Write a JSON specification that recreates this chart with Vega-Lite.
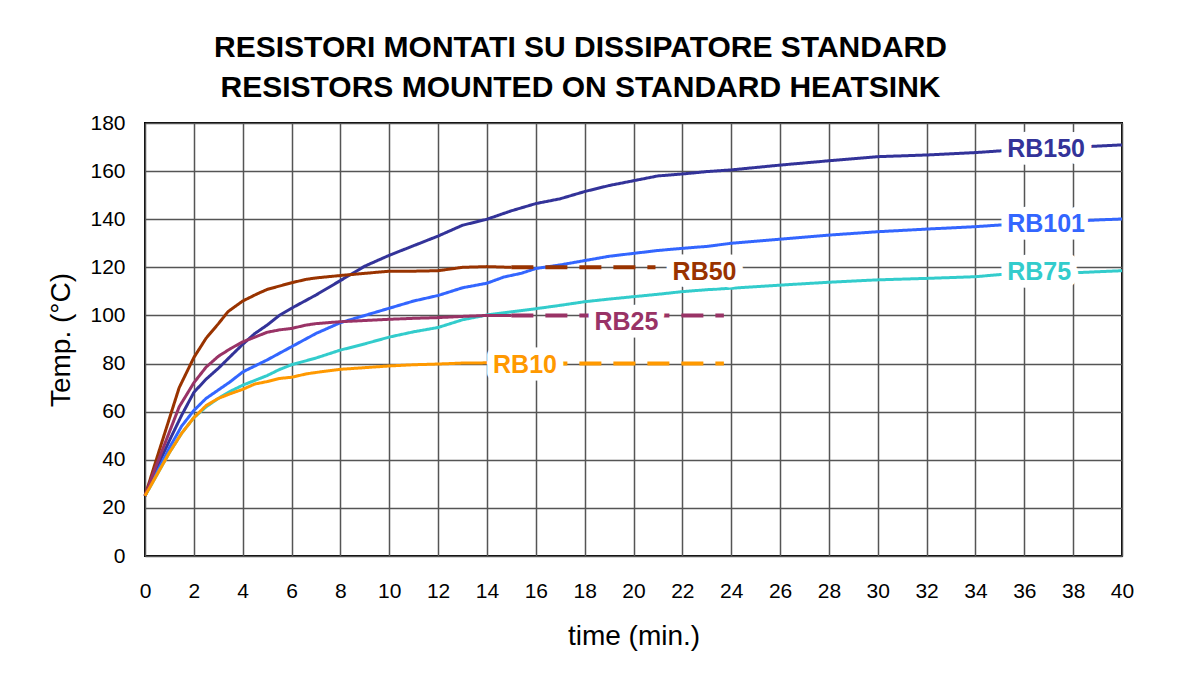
{
  "$schema": "https://vega.github.io/schema/vega-lite/v6.json",
  "width": 977,
  "height": 433,
  "autosize": {"type": "none"},
  "padding": {"left": 145, "top": 123, "right": 70, "bottom": 126},
  "background": "white",
  "config": {
    "font": "Liberation Sans",
    "view": {"stroke": "#000000", "strokeWidth": 2},
    "axis": {"gridColor": "#555555", "gridWidth": 1.5, "gridOpacity": 1, "domain": false, "ticks": false, "labelFont": "Liberation Sans", "titleFont": "Liberation Sans", "labelColor": "#000000", "titleColor": "#000000", "labelFontSize": 21, "titleFontSize": 28, "titleFontWeight": "normal"}
  },
  "title": {
    "text": ["RESISTORI MONTATI SU DISSIPATORE STANDARD", "RESISTORS MOUNTED ON STANDARD HEATSINK"],
    "font": "Liberation Sans",
    "fontSize": 30,
    "fontWeight": "bold",
    "color": "#000000",
    "lineHeight": 40,
    "anchor": "middle",
    "dx": -53,
    "offset": 9
  },
  "datasets": {
    "curves": [
      {"series": "RB150", "part": "solid", "t": 0, "T": 25},
      {"series": "RB150", "part": "solid", "t": 0.5, "T": 37},
      {"series": "RB150", "part": "solid", "t": 1, "T": 48},
      {"series": "RB150", "part": "solid", "t": 1.5, "T": 58.5},
      {"series": "RB150", "part": "solid", "t": 2, "T": 68},
      {"series": "RB150", "part": "solid", "t": 2.5, "T": 73.5},
      {"series": "RB150", "part": "solid", "t": 3, "T": 78},
      {"series": "RB150", "part": "solid", "t": 3.5, "T": 83},
      {"series": "RB150", "part": "solid", "t": 4, "T": 88},
      {"series": "RB150", "part": "solid", "t": 4.5, "T": 92.5},
      {"series": "RB150", "part": "solid", "t": 5, "T": 96},
      {"series": "RB150", "part": "solid", "t": 5.5, "T": 100},
      {"series": "RB150", "part": "solid", "t": 6, "T": 103},
      {"series": "RB150", "part": "solid", "t": 7, "T": 108.5},
      {"series": "RB150", "part": "solid", "t": 8, "T": 114.5},
      {"series": "RB150", "part": "solid", "t": 8.5, "T": 117.5},
      {"series": "RB150", "part": "solid", "t": 9, "T": 120.5},
      {"series": "RB150", "part": "solid", "t": 10, "T": 125},
      {"series": "RB150", "part": "solid", "t": 11, "T": 129},
      {"series": "RB150", "part": "solid", "t": 12, "T": 133},
      {"series": "RB150", "part": "solid", "t": 13, "T": 137.5},
      {"series": "RB150", "part": "solid", "t": 14, "T": 140},
      {"series": "RB150", "part": "solid", "t": 15, "T": 143.5},
      {"series": "RB150", "part": "solid", "t": 16, "T": 146.5},
      {"series": "RB150", "part": "solid", "t": 17, "T": 148.5},
      {"series": "RB150", "part": "solid", "t": 18, "T": 151.5},
      {"series": "RB150", "part": "solid", "t": 19, "T": 154},
      {"series": "RB150", "part": "solid", "t": 20, "T": 156},
      {"series": "RB150", "part": "solid", "t": 21, "T": 158},
      {"series": "RB150", "part": "solid", "t": 22, "T": 158.8},
      {"series": "RB150", "part": "solid", "t": 23, "T": 159.8},
      {"series": "RB150", "part": "solid", "t": 24, "T": 160.5},
      {"series": "RB150", "part": "solid", "t": 26, "T": 162.5},
      {"series": "RB150", "part": "solid", "t": 28, "T": 164.3},
      {"series": "RB150", "part": "solid", "t": 30, "T": 166},
      {"series": "RB150", "part": "solid", "t": 32, "T": 166.7},
      {"series": "RB150", "part": "solid", "t": 34, "T": 167.7},
      {"series": "RB150", "part": "solid", "t": 35, "T": 168.4},
      {"series": "RB150", "part": "solid", "t": 39, "T": 170.4},
      {"series": "RB150", "part": "solid", "t": 40, "T": 170.9},
      {"series": "RB101", "part": "solid", "t": 0, "T": 25},
      {"series": "RB101", "part": "solid", "t": 0.5, "T": 35},
      {"series": "RB101", "part": "solid", "t": 1, "T": 45},
      {"series": "RB101", "part": "solid", "t": 1.5, "T": 54},
      {"series": "RB101", "part": "solid", "t": 2, "T": 60.5},
      {"series": "RB101", "part": "solid", "t": 2.5, "T": 65.5},
      {"series": "RB101", "part": "solid", "t": 3, "T": 69},
      {"series": "RB101", "part": "solid", "t": 3.5, "T": 72.5},
      {"series": "RB101", "part": "solid", "t": 4, "T": 76.5},
      {"series": "RB101", "part": "solid", "t": 5, "T": 81.5},
      {"series": "RB101", "part": "solid", "t": 6, "T": 87},
      {"series": "RB101", "part": "solid", "t": 7, "T": 92.5},
      {"series": "RB101", "part": "solid", "t": 8, "T": 97},
      {"series": "RB101", "part": "solid", "t": 9, "T": 100},
      {"series": "RB101", "part": "solid", "t": 10, "T": 103},
      {"series": "RB101", "part": "solid", "t": 11, "T": 106},
      {"series": "RB101", "part": "solid", "t": 12, "T": 108.3},
      {"series": "RB101", "part": "solid", "t": 13, "T": 111.5},
      {"series": "RB101", "part": "solid", "t": 14, "T": 113.4},
      {"series": "RB101", "part": "solid", "t": 14.7, "T": 116},
      {"series": "RB101", "part": "solid", "t": 15.4, "T": 117.5},
      {"series": "RB101", "part": "solid", "t": 16, "T": 119.5},
      {"series": "RB101", "part": "solid", "t": 17, "T": 121},
      {"series": "RB101", "part": "solid", "t": 18, "T": 122.8},
      {"series": "RB101", "part": "solid", "t": 19, "T": 124.6},
      {"series": "RB101", "part": "solid", "t": 20, "T": 125.8},
      {"series": "RB101", "part": "solid", "t": 21, "T": 127},
      {"series": "RB101", "part": "solid", "t": 22, "T": 127.9},
      {"series": "RB101", "part": "solid", "t": 23, "T": 128.7},
      {"series": "RB101", "part": "solid", "t": 24, "T": 130},
      {"series": "RB101", "part": "solid", "t": 26, "T": 131.7},
      {"series": "RB101", "part": "solid", "t": 28, "T": 133.4},
      {"series": "RB101", "part": "solid", "t": 30, "T": 134.8},
      {"series": "RB101", "part": "solid", "t": 32, "T": 135.9},
      {"series": "RB101", "part": "solid", "t": 34, "T": 136.9},
      {"series": "RB101", "part": "solid", "t": 35, "T": 137.6},
      {"series": "RB101", "part": "solid", "t": 39, "T": 139.7},
      {"series": "RB101", "part": "solid", "t": 40, "T": 140.1},
      {"series": "RB75", "part": "solid", "t": 0, "T": 25},
      {"series": "RB75", "part": "solid", "t": 0.5, "T": 34},
      {"series": "RB75", "part": "solid", "t": 1, "T": 43},
      {"series": "RB75", "part": "solid", "t": 1.5, "T": 51},
      {"series": "RB75", "part": "solid", "t": 2, "T": 57.5},
      {"series": "RB75", "part": "solid", "t": 2.5, "T": 62},
      {"series": "RB75", "part": "solid", "t": 3, "T": 65.5},
      {"series": "RB75", "part": "solid", "t": 3.5, "T": 68.5},
      {"series": "RB75", "part": "solid", "t": 4, "T": 71},
      {"series": "RB75", "part": "solid", "t": 5, "T": 75},
      {"series": "RB75", "part": "solid", "t": 5.5, "T": 77.5},
      {"series": "RB75", "part": "solid", "t": 6, "T": 79.5},
      {"series": "RB75", "part": "solid", "t": 7, "T": 82.3},
      {"series": "RB75", "part": "solid", "t": 8, "T": 85.6},
      {"series": "RB75", "part": "solid", "t": 9, "T": 88.2},
      {"series": "RB75", "part": "solid", "t": 10, "T": 91},
      {"series": "RB75", "part": "solid", "t": 11, "T": 93.2},
      {"series": "RB75", "part": "solid", "t": 12, "T": 95},
      {"series": "RB75", "part": "solid", "t": 13, "T": 98.2},
      {"series": "RB75", "part": "solid", "t": 14, "T": 100.2},
      {"series": "RB75", "part": "solid", "t": 15, "T": 101.5},
      {"series": "RB75", "part": "solid", "t": 16, "T": 102.8},
      {"series": "RB75", "part": "solid", "t": 17, "T": 104.2},
      {"series": "RB75", "part": "solid", "t": 18, "T": 105.7},
      {"series": "RB75", "part": "solid", "t": 19, "T": 106.8},
      {"series": "RB75", "part": "solid", "t": 20, "T": 107.8},
      {"series": "RB75", "part": "solid", "t": 21, "T": 108.8},
      {"series": "RB75", "part": "solid", "t": 22, "T": 109.9},
      {"series": "RB75", "part": "solid", "t": 23, "T": 110.7},
      {"series": "RB75", "part": "solid", "t": 24, "T": 111.3},
      {"series": "RB75", "part": "solid", "t": 26, "T": 112.6},
      {"series": "RB75", "part": "solid", "t": 28, "T": 113.8},
      {"series": "RB75", "part": "solid", "t": 30, "T": 114.8},
      {"series": "RB75", "part": "solid", "t": 32, "T": 115.4},
      {"series": "RB75", "part": "solid", "t": 34, "T": 116.1},
      {"series": "RB75", "part": "solid", "t": 35, "T": 117},
      {"series": "RB75", "part": "solid", "t": 38.4, "T": 117.9},
      {"series": "RB75", "part": "solid", "t": 40, "T": 118.6},
      {"series": "RB50", "part": "solid", "t": 0, "T": 25},
      {"series": "RB50", "part": "solid", "t": 0.4, "T": 38},
      {"series": "RB50", "part": "solid", "t": 0.9, "T": 54},
      {"series": "RB50", "part": "solid", "t": 1.4, "T": 70},
      {"series": "RB50", "part": "solid", "t": 2, "T": 82.5},
      {"series": "RB50", "part": "solid", "t": 2.5, "T": 90.5},
      {"series": "RB50", "part": "solid", "t": 3, "T": 96.5},
      {"series": "RB50", "part": "solid", "t": 3.4, "T": 101.6},
      {"series": "RB50", "part": "solid", "t": 4, "T": 106},
      {"series": "RB50", "part": "solid", "t": 4.6, "T": 109},
      {"series": "RB50", "part": "solid", "t": 5, "T": 110.8},
      {"series": "RB50", "part": "solid", "t": 6, "T": 113.6},
      {"series": "RB50", "part": "solid", "t": 6.6, "T": 115},
      {"series": "RB50", "part": "solid", "t": 7, "T": 115.6},
      {"series": "RB50", "part": "solid", "t": 8, "T": 116.6},
      {"series": "RB50", "part": "solid", "t": 9, "T": 117.5},
      {"series": "RB50", "part": "solid", "t": 10, "T": 118.4},
      {"series": "RB50", "part": "solid", "t": 11, "T": 118.4},
      {"series": "RB50", "part": "solid", "t": 12, "T": 118.6},
      {"series": "RB50", "part": "solid", "t": 13, "T": 120},
      {"series": "RB50", "part": "solid", "t": 14, "T": 120.3},
      {"series": "RB50", "part": "solid", "t": 15, "T": 120},
      {"series": "RB50", "part": "dashed", "t": 15, "T": 120},
      {"series": "RB50", "part": "dashed", "t": 20.9, "T": 120},
      {"series": "RB25", "part": "solid", "t": 0, "T": 25},
      {"series": "RB25", "part": "solid", "t": 0.4, "T": 36},
      {"series": "RB25", "part": "solid", "t": 0.9, "T": 49},
      {"series": "RB25", "part": "solid", "t": 1.4, "T": 62},
      {"series": "RB25", "part": "solid", "t": 2, "T": 72},
      {"series": "RB25", "part": "solid", "t": 2.5, "T": 78.5},
      {"series": "RB25", "part": "solid", "t": 3, "T": 83},
      {"series": "RB25", "part": "solid", "t": 3.5, "T": 86.2},
      {"series": "RB25", "part": "solid", "t": 4, "T": 89},
      {"series": "RB25", "part": "solid", "t": 4.5, "T": 91},
      {"series": "RB25", "part": "solid", "t": 5, "T": 93},
      {"series": "RB25", "part": "solid", "t": 5.5, "T": 94},
      {"series": "RB25", "part": "solid", "t": 6, "T": 94.6},
      {"series": "RB25", "part": "solid", "t": 6.6, "T": 96},
      {"series": "RB25", "part": "solid", "t": 7, "T": 96.6},
      {"series": "RB25", "part": "solid", "t": 8, "T": 97.4},
      {"series": "RB25", "part": "solid", "t": 10, "T": 98.4},
      {"series": "RB25", "part": "solid", "t": 11, "T": 98.8},
      {"series": "RB25", "part": "solid", "t": 12, "T": 99.1},
      {"series": "RB25", "part": "solid", "t": 13, "T": 99.6},
      {"series": "RB25", "part": "solid", "t": 14, "T": 100},
      {"series": "RB25", "part": "solid", "t": 15, "T": 100},
      {"series": "RB25", "part": "dashed", "t": 15, "T": 100},
      {"series": "RB25", "part": "dashed", "t": 23.7, "T": 100},
      {"series": "RB10", "part": "solid", "t": 0, "T": 25},
      {"series": "RB10", "part": "solid", "t": 0.5, "T": 34},
      {"series": "RB10", "part": "solid", "t": 1, "T": 43},
      {"series": "RB10", "part": "solid", "t": 1.5, "T": 51},
      {"series": "RB10", "part": "solid", "t": 2, "T": 57.5},
      {"series": "RB10", "part": "solid", "t": 2.5, "T": 62.5},
      {"series": "RB10", "part": "solid", "t": 3, "T": 65.5},
      {"series": "RB10", "part": "solid", "t": 3.5, "T": 67.5},
      {"series": "RB10", "part": "solid", "t": 4, "T": 69.3},
      {"series": "RB10", "part": "solid", "t": 4.5, "T": 71.5},
      {"series": "RB10", "part": "solid", "t": 5, "T": 72.5},
      {"series": "RB10", "part": "solid", "t": 5.5, "T": 73.8},
      {"series": "RB10", "part": "solid", "t": 6, "T": 74.3},
      {"series": "RB10", "part": "solid", "t": 6.6, "T": 75.7},
      {"series": "RB10", "part": "solid", "t": 7, "T": 76.3},
      {"series": "RB10", "part": "solid", "t": 8, "T": 77.6},
      {"series": "RB10", "part": "solid", "t": 9, "T": 78.3},
      {"series": "RB10", "part": "solid", "t": 10, "T": 79},
      {"series": "RB10", "part": "solid", "t": 11, "T": 79.5},
      {"series": "RB10", "part": "solid", "t": 12, "T": 79.8},
      {"series": "RB10", "part": "solid", "t": 13, "T": 80.2},
      {"series": "RB10", "part": "solid", "t": 14, "T": 80.3},
      {"series": "RB10", "part": "solid", "t": 15, "T": 80.2},
      {"series": "RB10", "part": "dashed", "t": 15, "T": 80},
      {"series": "RB10", "part": "dashed", "t": 23.7, "T": 80}
    ],
    "labels": [
      {"series": "RB150", "t": 35.3, "T": 169.2},
      {"series": "RB101", "t": 35.3, "T": 138},
      {"series": "RB75", "t": 35.3, "T": 118.2},
      {"series": "RB50", "t": 21.6, "T": 118.2},
      {"series": "RB25", "t": 18.4, "T": 97.4},
      {"series": "RB10", "t": 14.25, "T": 79.4}
    ]
  },
  "encoding": {
    "x": {"field": "t", "type": "quantitative", "scale": {"domain": [0, 40], "nice": false, "zero": false}, "axis": {"values": [0, 2, 4, 6, 8, 10, 12, 14, 16, 18, 20, 22, 24, 26, 28, 30, 32, 34, 36, 38, 40], "title": "time (min.)", "labelPadding": 24, "titlePadding": 21, "labelFlush": false}},
    "y": {"field": "T", "type": "quantitative", "scale": {"domain": [0, 180], "nice": false}, "axis": {"values": [0, 20, 40, 60, 80, 100, 120, 140, 160, 180], "title": "Temp. (°C)", "labelPadding": 20, "titlePadding": 14}},
    "color": {"field": "series", "type": "nominal", "legend": null, "scale": {"domain": ["RB150", "RB101", "RB75", "RB50", "RB25", "RB10"], "range": ["#333399", "#3366FF", "#33CCCC", "#993300", "#993366", "#FF9900"]}}
  },
  "layer": [
    {
      "data": {"name": "curves"},
      "mark": {"type": "line", "strokeCap": "butt", "strokeJoin": "round"},
      "encoding": {
        "detail": {"field": "part", "type": "nominal"},
        "strokeDash": {"field": "part", "type": "nominal", "legend": null, "scale": {"domain": ["solid", "dashed"], "range": [[1, 0], [22, 12]]}},
        "strokeWidth": {"field": "part", "type": "nominal", "legend": null, "scale": {"domain": ["solid", "dashed"], "range": [3, 4]}}
      }
    },
    {
      "data": {"name": "labels"},
      "mark": {"type": "text", "align": "left", "baseline": "middle", "font": "Liberation Sans", "fontSize": 25, "fontWeight": "bold", "stroke": "white", "strokeWidth": 15, "strokeJoin": "round", "fill": "white"},
      "encoding": {"text": {"field": "series"}, "color": {"value": "white"}}
    },
    {
      "data": {"name": "labels"},
      "mark": {"type": "text", "align": "left", "baseline": "middle", "font": "Liberation Sans", "fontSize": 25, "fontWeight": "bold"},
      "encoding": {"text": {"field": "series"}}
    }
  ]
}
